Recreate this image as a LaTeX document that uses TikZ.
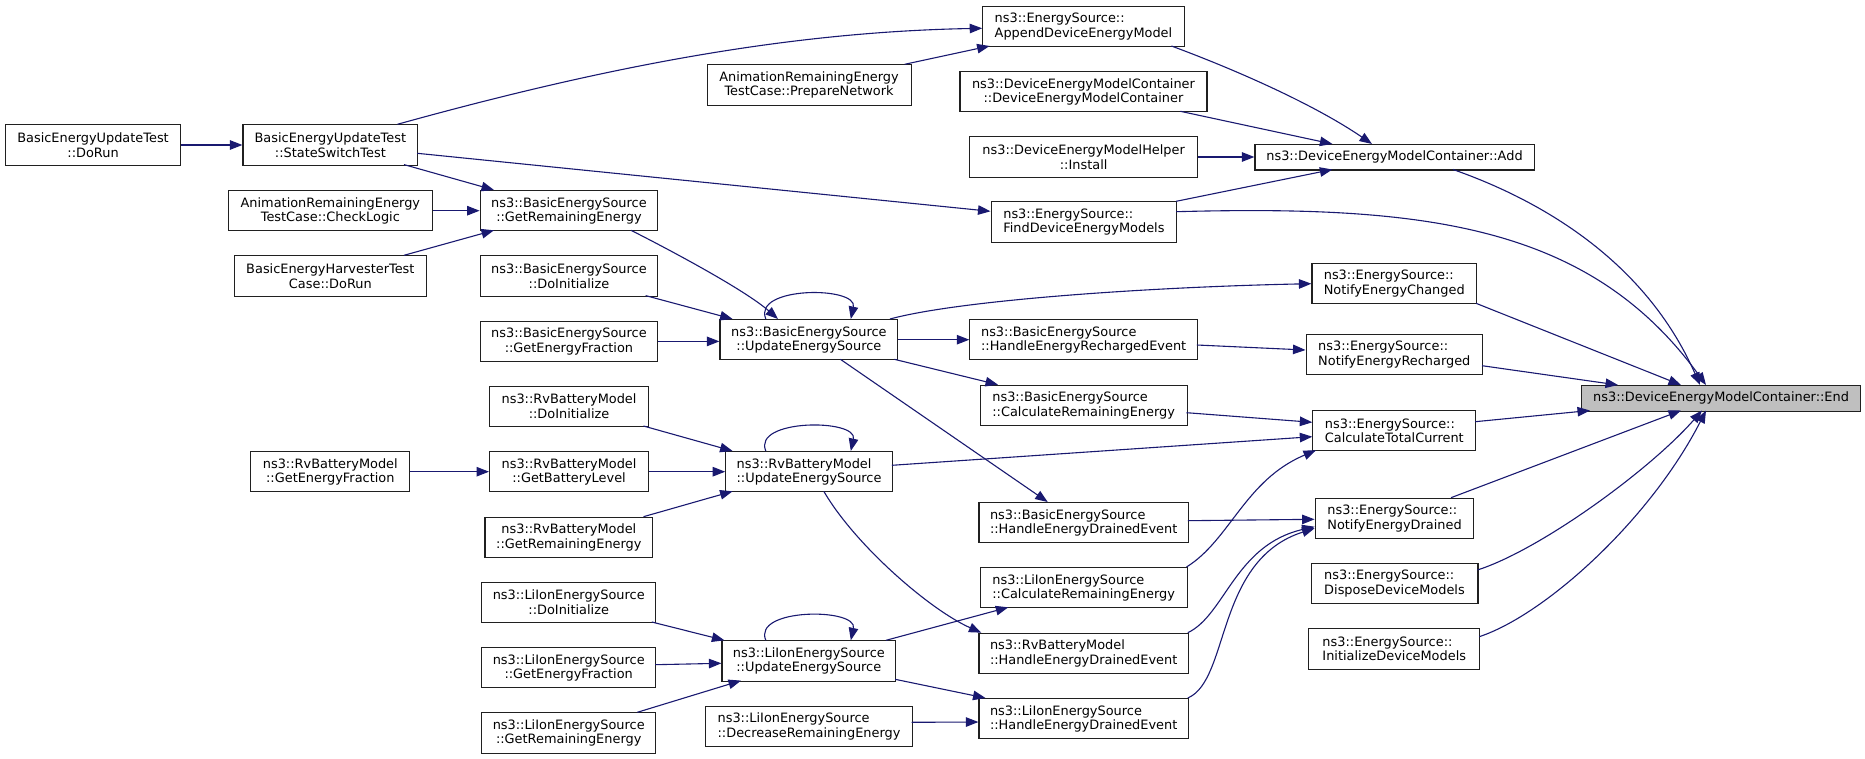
\documentclass[tikz,border=0pt]{standalone}
\usepackage{fontspec}
\setmainfont{DejaVu Sans}
\usetikzlibrary{arrows.meta,calc}
\definecolor{edgeblue}{HTML}{191970}
\definecolor{endgrey}{HTML}{BFBFBF}
\definecolor{boxline}{HTML}{202020}
\begin{document}
\begin{tikzpicture}[x=1pt,y=-1pt,
  box/.style={draw=boxline, line width=1.1pt, fill=white, inner sep=0pt, minimum height=40.3pt,
    font=\fontsize{12.9}{14.5}\selectfont, anchor=north west},
  cbox/.style={box, align=center},
  lbox/.style={box, align=left},
  onebox/.style={box, minimum height=25.5pt},
  edgecall/.style={draw=edgeblue, line width=1.1pt, -{Triangle[length=12.5pt,width=9.5pt]}}]
\useasboundingbox (0,0) rectangle (1865,759);

% rank 6 / 5
\node[cbox, minimum width=175.6pt] (dorun) at (4.7,124.3) {BasicEnergyUpdateTest\\::DoRun};
\node[cbox, minimum width=174.8pt] (sst) at (242.4,124.3) {BasicEnergyUpdateTest\\::StateSwitchTest};
\node[cbox, minimum width=204pt] (chk) at (227.8,190) {AnimationRemainingEnergy\\TestCase::CheckLogic};
\node[cbox, minimum width=192.2pt] (harv) at (233.7,255.3) {BasicEnergyHarvesterTest\\Case::DoRun};
\node[cbox, minimum width=158.9pt] (rvgef) at (250.3,451) {ns3::RvBatteryModel\\::GetEnergyFraction};
% rank 4
\node[cbox, minimum width=177.6pt] (bgre) at (479.6,190) {ns3::BasicEnergySource\\::GetRemainingEnergy};
\node[cbox, minimum width=177.6pt] (bdoi) at (479.6,255.3) {ns3::BasicEnergySource\\::DoInitialize};
\node[cbox, minimum width=177.6pt] (bgef) at (479.6,320.7) {ns3::BasicEnergySource\\::GetEnergyFraction};
\node[cbox, minimum width=159pt] (rvdoi) at (489,385.7) {ns3::RvBatteryModel\\::DoInitialize};
\node[cbox, minimum width=159pt] (rvgbl) at (489,451) {ns3::RvBatteryModel\\::GetBatteryLevel};
\node[cbox, minimum width=167.8pt] (rvgre) at (484.4,516.7) {ns3::RvBatteryModel\\::GetRemainingEnergy};
\node[cbox, minimum width=173.9pt] (lidoi) at (481.2,581.7) {ns3::LiIonEnergySource\\::DoInitialize};
\node[cbox, minimum width=173.9pt] (ligef) at (481.2,647) {ns3::LiIonEnergySource\\::GetEnergyFraction};
\node[cbox, minimum width=173.9pt] (ligre) at (481.2,712.3) {ns3::LiIonEnergySource\\::GetRemainingEnergy};
% rank 3
\node[cbox, minimum width=204pt] (prep) at (706.5,64.3) {AnimationRemainingEnergy\\TestCase::PrepareNetwork};
\node[cbox, minimum width=177.8pt] (bues) at (719.4,319) {ns3::BasicEnergySource\\::UpdateEnergySource};
\node[lbox, minimum width=166.6pt] (rvues) at (725.2,451) {ns3::RvBatteryModel\\::UpdateEnergySource};
\node[cbox, minimum width=173.7pt] (liues) at (721.4,640.3) {ns3::LiIonEnergySource\\::UpdateEnergySource};
\node[lbox, minimum width=206.4pt] (lidec) at (705.3,705.7) {ns3::LiIonEnergySource\\::DecreaseRemainingEnergy};
% rank 2
\node[lbox, minimum width=201.4pt] (app) at (982.2,5.7) {ns3::EnergySource::\\AppendDeviceEnergyModel};
\node[cbox, minimum width=247pt] (ctor) at (959.4,71) {ns3::DeviceEnergyModelContainer\\::DeviceEnergyModelContainer};
\node[cbox, minimum width=227.6pt] (inst) at (969.3,136.3) {ns3::DeviceEnergyModelHelper\\::Install};
\node[lbox, minimum width=185.7pt] (find) at (990.5,201.3) {ns3::EnergySource::\\FindDeviceEnergyModels};
\node[lbox, minimum width=227.6pt] (rech) at (969.3,319) {ns3::BasicEnergySource\\::HandleEnergyRechargedEvent};
\node[lbox, minimum width=206.8pt] (bcre) at (979.7,384.7) {ns3::BasicEnergySource\\::CalculateRemainingEnergy};
\node[lbox, minimum width=209.4pt] (bhede) at (978.4,502) {ns3::BasicEnergySource\\::HandleEnergyDrainedEvent};
\node[lbox, minimum width=206.8pt] (licre) at (979.7,567) {ns3::LiIonEnergySource\\::CalculateRemainingEnergy};
\node[lbox, minimum width=209.4pt] (rvhede) at (978.4,632.7) {ns3::RvBatteryModel\\::HandleEnergyDrainedEvent};
\node[lbox, minimum width=209.4pt] (lihede) at (978.4,698) {ns3::LiIonEnergySource\\::HandleEnergyDrainedEvent};
% rank 1
\node[onebox, minimum width=279.1pt] (add) at (1254.4,144) {ns3::DeviceEnergyModelContainer::Add};
\node[lbox, minimum width=164.6pt] (nec) at (1311.4,263) {ns3::EnergySource::\\NotifyEnergyChanged};
\node[lbox, minimum width=176.5pt] (ner) at (1305.5,333.7) {ns3::EnergySource::\\NotifyEnergyRecharged};
\node[lbox, minimum width=162.9pt] (ctc) at (1312.3,410) {ns3::EnergySource::\\CalculateTotalCurrent};
\node[lbox, minimum width=158.7pt] (ned) at (1314.6,497.7) {ns3::EnergySource::\\NotifyEnergyDrained};
\node[lbox, minimum width=166.9pt] (disp) at (1310.5,563) {ns3::EnergySource::\\DisposeDeviceModels};
\node[lbox, minimum width=171pt] (init) at (1308.2,628.3) {ns3::EnergySource::\\InitializeDeviceModels};
% rank 0
\node[onebox, fill=endgrey, minimum width=279pt] (end) at (1581,385) {ns3::DeviceEnergyModelContainer::End};

% edges
\draw[edgecall] (dorun.east) -- (sst.west);
\draw[edgecall] ($(sst.north west)+(155,0)$) .. controls (597,69) and (782,32) .. ($(app.north west)+(0,22.6)$);
\draw[edgecall] ($(sst.north west)+(174.8,29)$) -- ($(find.north west)+(0,10)$);
\draw[edgecall] ($(sst.north west)+(161.6,40.3)$) -- ($(bgre.north west)+(14.4,0)$);
\draw[edgecall] (chk.east) -- (bgre.west);
\draw[edgecall] ($(harv.north west)+(170.3,0)$) -- ($(bgre.north west)+(14.4,40.3)$);
\draw[edgecall] ($(prep.north west)+(198.2,0)$) -- ($(app.north west)+(7.4,40.3)$);
\draw[edgecall] ($(app.north west)+(189.2,40.3)$) .. controls (1231,68) and (1312,103) .. ($(add.north west)+(117.6,0)$);
\draw[edgecall] ($(ctor.north west)+(220.9,40.3)$) -- ($(add.north west)+(78,0)$);
\draw[edgecall] (inst.east) -- (inst.east -| add.west);
\draw[edgecall] ($(find.north west)+(185.7,0)$) -- ($(add.north west)+(78,25.5)$);
\draw[edgecall] ($(find.north west)+(185.7,10.4)$) .. controls (1426,205) and (1590,225) .. ($(end.north west)+(125,0)$);
\draw[edgecall] ($(add.north west)+(198.6,25.5)$) .. controls (1540,200) and (1645,260) .. ($(end.north west)+(119,0)$);
\draw[edgecall] ($(bgre.north west)+(151.4,40.3)$) .. controls (670,250) and (745,290) .. ($(bues.north west)+(58.6,0)$);
\draw[edgecall] ($(bdoi.north west)+(166,40.3)$) -- ($(bues.north west)+(13.2,0)$);
\draw[edgecall] (bgef.east) -- (bgef.east -| bues.west);
\draw[edgecall] ($(bues.north west)+(46.4,0)$) .. controls (752,286) and (858,286) .. ($(bues.north west)+(131.4,0)$);
\draw[edgecall] ($(bues.north west)+(170.6,0)$) .. controls (960,300) and (1150,287) .. ($(nec.north west)+(0,20.7)$);
\draw[edgecall] (bues.east) -- (bues.east -| rech.west);
\draw[edgecall] ($(bues.north west)+(174.9,40.3)$) -- ($(bcre.north west)+(18.3,0)$);
\draw[edgecall] ($(bues.north west)+(121,40.3)$) -- ($(bhede.north west)+(69.3,0)$);
\draw[edgecall] ($(rech.north west)+(227.6,26)$) -- ($(ner.north west)+(0,16.3)$);
\draw[edgecall] ($(nec.north west)+(164.6,40.3)$) -- ($(end.north west)+(100,0)$);
\draw[edgecall] ($(ner.north west)+(176.5,32)$) -- ($(end.north west)+(37,0)$);
\draw[edgecall] ($(bcre.north west)+(206.8,28)$) -- ($(ctc.north west)+(0,12.3)$);
\draw[edgecall] ($(rvues.north west)+(166.6,14.3)$) -- ($(ctc.north west)+(0,26.7)$);
\draw[edgecall] ($(ctc.north west)+(162.9,11.7)$) -- ($(end.north west)+(9,25.5)$);
\draw[edgecall] ($(bhede.north west)+(209.4,18.7)$) -- ($(ned.north west)+(0,21.6)$);
\draw[edgecall] ($(licre.north west)+(206.8,0)$) .. controls (1230,540) and (1245,480) .. ($(ctc.north west)+(3.7,40.3)$);
\draw[edgecall] ($(rvhede.north west)+(209.4,0)$) .. controls (1225,615) and (1235,545) .. ($(ned.north west)+(0,29)$);
\draw[edgecall] ($(lihede.north west)+(209.4,0)$) .. controls (1230,680) and (1215,560) .. ($(ned.north west)+(0,30.6)$);
\draw[edgecall] ($(ned.north west)+(136.4,0)$) -- ($(end.north west)+(100,25.5)$);
\draw[edgecall] ($(disp.north west)+(166.9,7)$) .. controls (1540,550) and (1650,470) .. ($(end.north west)+(121,25.5)$);
\draw[edgecall] ($(init.north west)+(171,8.4)$) .. controls (1545,615) and (1650,520) .. ($(end.north west)+(125,25.5)$);
\draw[edgecall] ($(rvdoi.north west)+(154.5,40.3)$) -- ($(rvues.north west)+(7.4,0)$);
\draw[edgecall] (rvgbl.east) -- (rvgbl.east -| rvues.west);
\draw[edgecall] ($(rvgre.north west)+(159.1,0)$) -- ($(rvues.north west)+(7.4,40.3)$);
\draw[edgecall] (rvgef.east) -- (rvgbl.west);
\draw[edgecall] ($(rvues.north west)+(40.6,0)$) .. controls (752,418.6) and (858,418.6) .. ($(rvues.north west)+(125.6,0)$);
\draw[edgecall] ($(rvues.north west)+(98.6,40.3)$) .. controls (855,545) and (930,610) .. ($(rvhede.north west)+(3,0)$);
\draw[edgecall] ($(lidoi.north west)+(170.6,40.3)$) -- ($(liues.north west)+(3,0)$);
\draw[edgecall] ($(ligef.north west)+(173.9,17.7)$) -- ($(liues.north west)+(0,23)$);
\draw[edgecall] ($(ligre.north west)+(156.1,0)$) -- ($(liues.north west)+(19.6,40.3)$);
\draw[edgecall] ($(liues.north west)+(44.4,0)$) .. controls (752,607.7) and (858,607.7) .. ($(liues.north west)+(129.4,0)$);
\draw[edgecall] ($(liues.north west)+(164.6,0)$) -- ($(licre.north west)+(28.6,40.3)$);
\draw[edgecall] ($(liues.north west)+(173.7,39)$) -- ($(lihede.north west)+(7.1,0)$);
\draw[edgecall] ($(lidec.north west)+(206.4,16.6)$) -- ($(lihede.north west)+(0,24)$);
\end{tikzpicture}
\end{document}
